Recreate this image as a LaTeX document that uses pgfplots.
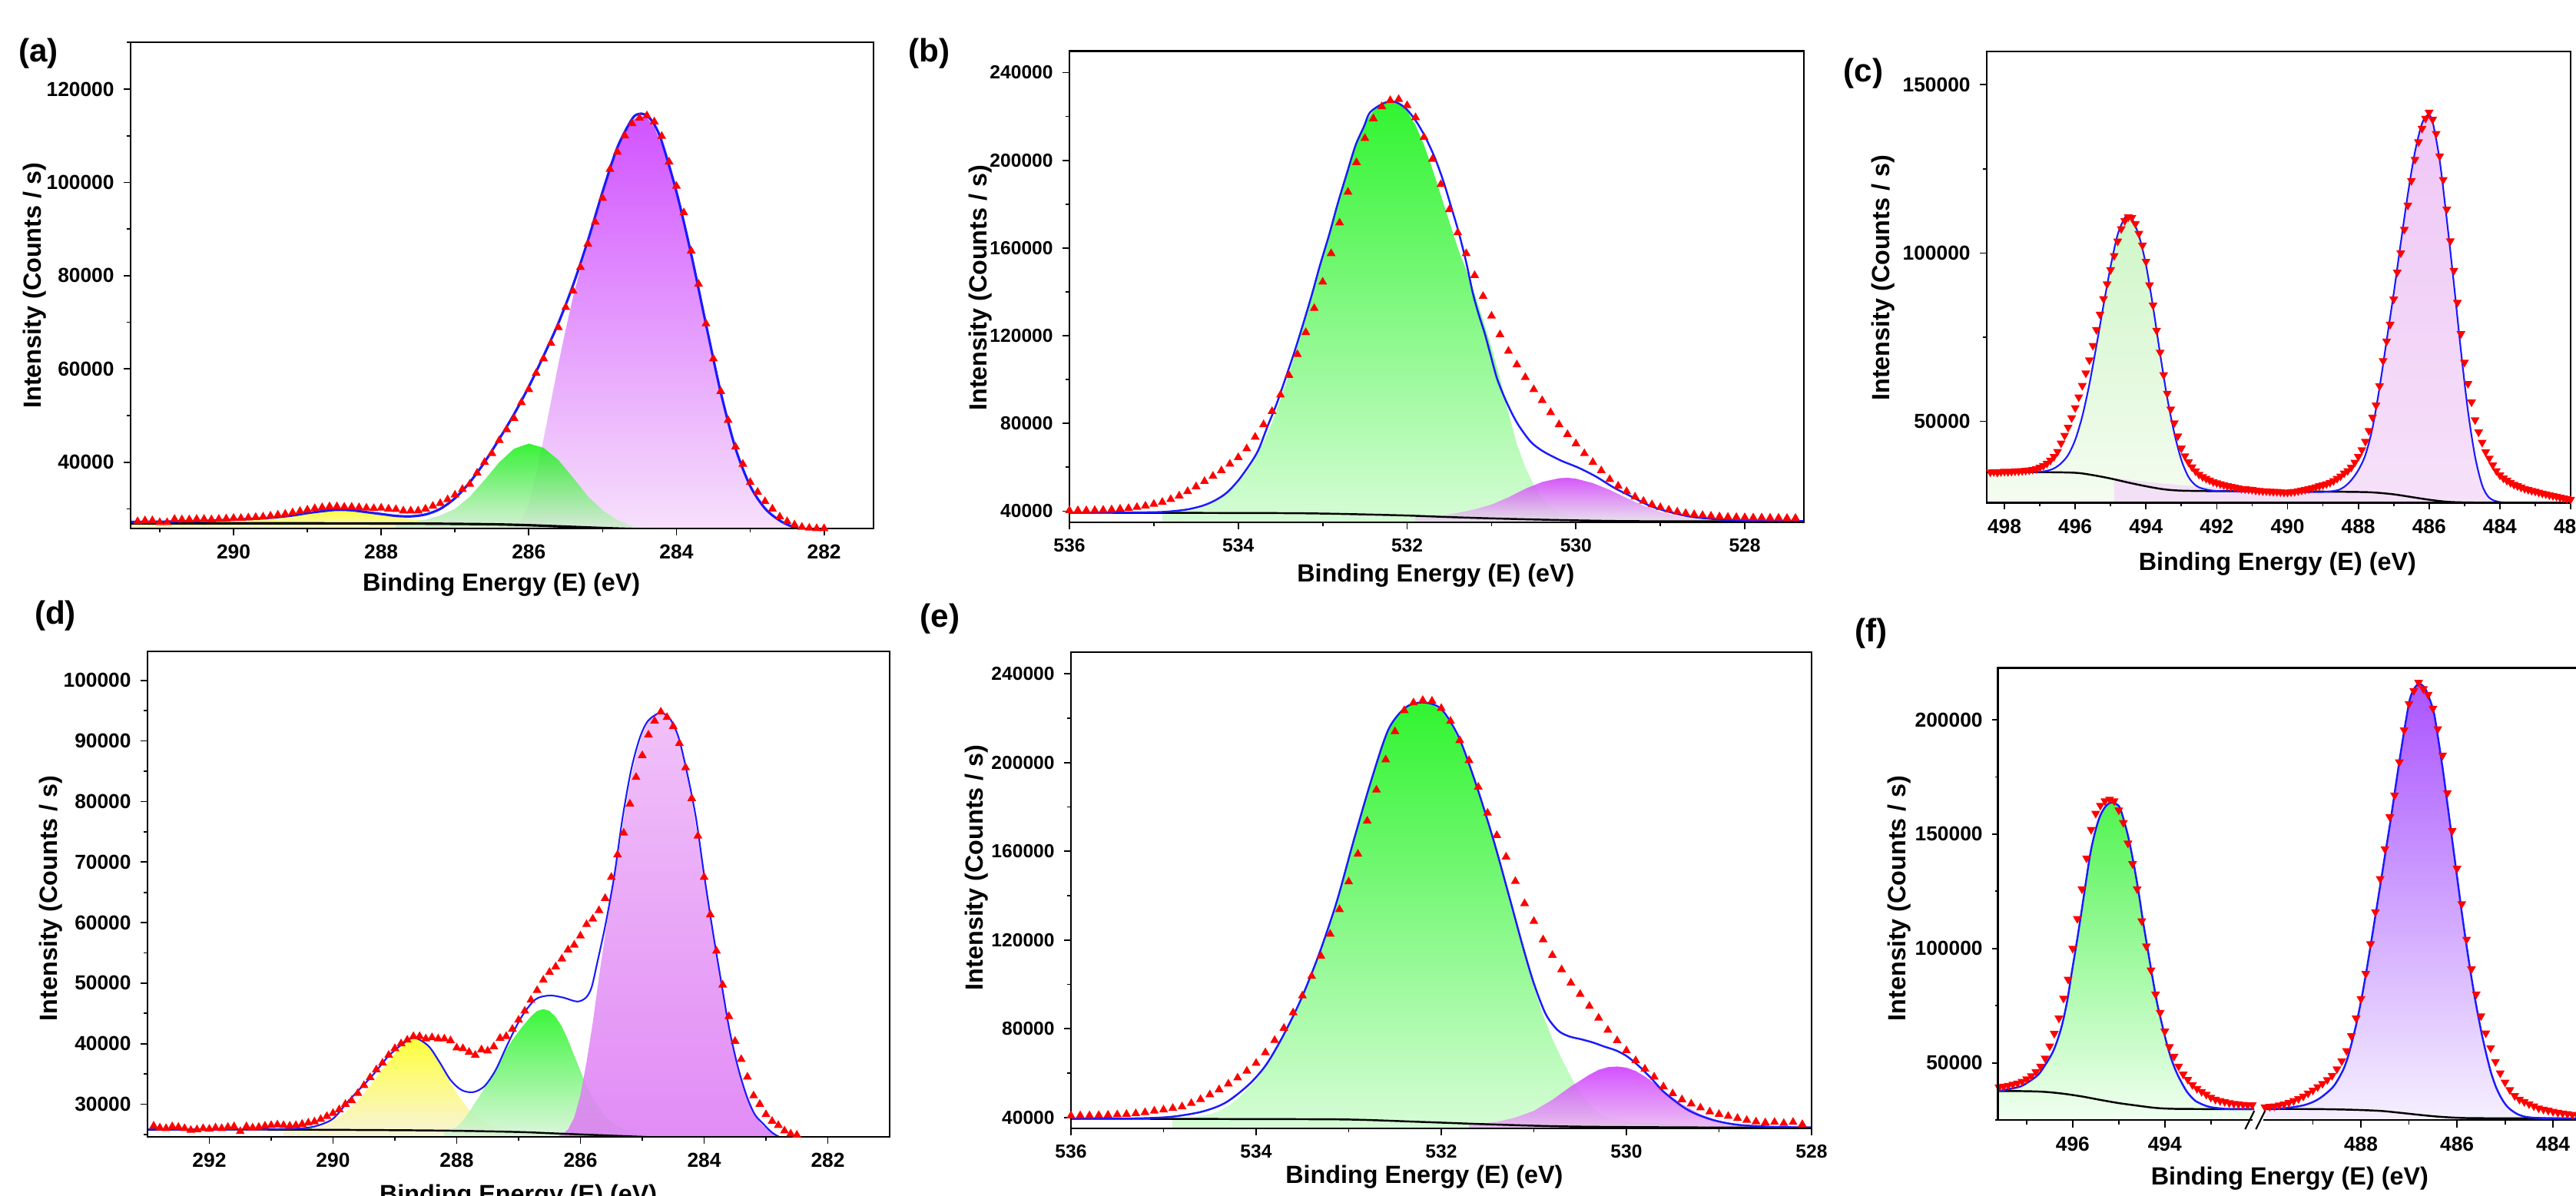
\documentclass[border=0pt]{standalone}
\usepackage{fontspec}
\setmainfont{Liberation Sans}
\usepackage{pgfplots}
\pgfplotsset{compat=1.18}

\definecolor{fitblue}{HTML}{1A1AFF}
\definecolor{mgA}{HTML}{C935FF}\definecolor{mgAb}{HTML}{F5DAFB}
\definecolor{grA}{HTML}{14F014}\definecolor{grAb}{HTML}{D2EDD2}
\definecolor{yeA}{HTML}{FFFF14}\definecolor{yeAb}{HTML}{F6F3D2}
\definecolor{grB}{HTML}{0CF20C}\definecolor{grBb}{HTML}{CFFCCF}
\definecolor{mgB}{HTML}{CF3BFA}\definecolor{mgBb}{HTML}{E6DCEA}
\definecolor{grC}{HTML}{C6F5BE}\definecolor{grCb}{HTML}{F3FBEE}
\definecolor{puC}{HTML}{ECBDF5}\definecolor{puCb}{HTML}{F4DCF8}
\definecolor{mgD}{HTML}{EEB6F8}\definecolor{mgDb}{HTML}{DC78F4}
\definecolor{grD}{HTML}{1AF51A}\definecolor{grDb}{HTML}{D6F4D6}
\definecolor{yeD}{HTML}{FFFF1A}\definecolor{yeDb}{HTML}{F7F2D4}
\definecolor{mgE}{HTML}{CC33FF}\definecolor{mgEb}{HTML}{EAB4F2}
\definecolor{grF}{HTML}{33F233}\definecolor{grFb}{HTML}{EFFFEF}
\definecolor{puF}{HTML}{9B36FF}\definecolor{puFb}{HTML}{F3EEFF}

\newcommand\tf{\fontsize{7.5}{9}\selectfont\bfseries}
\newcommand\tfs{\fontsize{7.0}{8.5}\selectfont\bfseries}
\newcommand\lf{\fontsize{9.2}{11}\selectfont\bfseries}
\newcommand\pf{\fontsize{12}{14}\selectfont\bfseries}

\pgfplotsset{
  xps/.style={scale only axis, anchor=north west, x dir=reverse, clip=true,
    axis line style={line width=0.6pt}, axis on top,
    tick align=outside, tick pos=left,
    major tick length=0.09cm, minor tick length=0.05cm,
    tick style={black, line width=0.5pt},
    scaled y ticks=false,
    /pgf/number format/assume math mode=true,
    y tick label style={/pgf/number format/fixed, /pgf/number format/1000 sep={}},
    x tick label style={/pgf/number format/1000 sep={}},
    tick label style={font=\tf}},
  dat/.style={only marks, mark=triangle*, mark size=1.5pt, color=red, mark options={draw=none, fill=red}},
  datd/.style={only marks, mark=triangle*, mark size=1.5pt, color=red, mark options={draw=none, fill=red, rotate=180}},
  env/.style={no marks, smooth, fitblue, line width=0.7pt},
  bgl/.style={no marks, smooth, black, line width=0.7pt},
  comp/.style 2 args={no marks, draw=none, top color=#1, bottom color=#2, fill opacity=0.85},
}

\begin{document}
\begin{tikzpicture}

% ---------------- (a) C 1s ----------------
\begin{axis}[xps, at={(1.70cm,-0.55cm)}, width=9.67cm, height=6.33cm,
  xmin=281.33, xmax=291.395, ymin=25800, ymax=130040,
  xtick={282,284,...,290}, minor xtick={281,283,...,291},
  ytick={40000,60000,...,120000}, minor ytick={30000,50000,...,130000}]
\addplot[comp={yeA}{yeAb}] coordinates {(291.4,25800) (291.4,27000) (290.5,27100) (290.0,27300) (289.6,27800) (289.4,28200) (289.2,28600) (289.0,29000) (288.8,29400) (288.6,29700) (288.4,29600) (288.2,29300) (288.0,28800) (287.8,28300) (287.6,27800) (287.4,27500) (287.0,27200) (286.6,27000) (286.0,26700) (285.6,26300) (285.2,25800)};
\addplot[comp={mgA}{mgAb}] coordinates {(286.4,25800) (286.3,25900) (286.2,26300) (286.1,27500) (286.0,31000) (285.9,37500) (285.8,45000) (285.7,53000) (285.6,61000) (285.5,68500) (285.4,75500) (285.3,81500) (285.2,86500) (285.1,92000) (285.0,97000) (284.9,102500) (284.8,107000) (284.7,110800) (284.6,113200) (284.5,114300) (284.4,113900) (284.3,111800) (284.2,108000) (284.1,103000) (284.0,97200) (283.9,91000) (283.8,84300) (283.7,77300) (283.6,69700) (283.5,62300) (283.4,55000) (283.3,48400) (283.2,42800) (283.1,38300) (283.0,34700) (282.9,32000) (282.8,30000) (282.7,28500) (282.6,27400) (282.5,26600) (282.4,26100) (282.3,25800)};
\addplot[comp={grA}{grAb}] coordinates {(287.8,25800) (287.8,26900) (287.6,27200) (287.4,27700) (287.2,28600) (287.0,30000) (286.8,32600) (286.6,36200) (286.4,40000) (286.2,42900) (286.0,44000) (285.8,43100) (285.6,40500) (285.4,36700) (285.2,32700) (285.0,29700) (284.8,27600) (284.6,26300) (284.4,25800)};
\addplot[bgl, line width=0.9pt] coordinates {(291.4,26900) (289.0,26900) (287.5,26850) (286.5,26700) (286.0,26500) (285.5,26200) (285.0,25900) (284.6,25700) (284.2,25600) (283.0,25500)};
\addplot[env, line width=0.9pt] coordinates {(291.4,27200) (291.0,27250) (290.5,27400) (290.0,27650) (289.5,28100) (289.2,28600) (289.0,29100) (288.8,29500) (288.6,29800) (288.4,29700) (288.2,29300) (288.0,28900) (287.8,28500) (287.6,28400) (287.4,28800) (287.2,30000) (287.0,32300) (286.8,35700) (286.6,40000) (286.4,45000) (286.2,50300) (286.0,56200) (285.8,62800) (285.6,69800) (285.4,78000) (285.2,87500) (285.0,98000) (284.8,107500) (284.6,113600) (284.5,114700) (284.4,114300) (284.3,112400) (284.2,108800) (284.0,98000) (283.8,84600) (283.6,69600) (283.4,55000) (283.2,43000) (283.0,34900) (282.8,30100) (282.6,27500) (282.4,26000) (282.2,25200) (282.0,24800)};
\addplot[dat] coordinates {(291.3,27300) (291.2,27500) (291.1,27500) (291.0,27100) (290.9,27100) (290.8,27800) (290.7,27700) (290.6,27700) (290.5,27800) (290.4,27800) (290.3,27700) (290.2,27800) (290.1,27900) (290.0,28000) (289.9,28000) (289.8,28100) (289.7,28200) (289.6,28300) (289.5,28500) (289.4,28700) (289.3,28900) (289.2,29200) (289.1,29500) (289.0,29800) (288.9,30100) (288.8,30300) (288.7,30500) (288.6,30500) (288.5,30400) (288.4,30400) (288.3,30300) (288.2,30200) (288.1,30100) (288.0,30200) (287.9,30000) (287.8,29900) (287.7,29600) (287.6,29600) (287.5,29600) (287.4,30000) (287.3,30600) (287.2,31200) (287.1,32000) (287.0,33000) (286.9,34200) (286.8,35300) (286.7,37700) (286.6,40000) (286.5,41900) (286.4,44700) (286.3,47000) (286.2,49400) (286.1,52800) (286.0,55600) (285.9,59100) (285.8,62200) (285.7,65500) (285.6,68900) (285.5,73200) (285.4,76700) (285.3,81800) (285.2,86800) (285.1,91500) (285.0,96600) (284.9,102800) (284.8,106500) (284.7,110000) (284.6,112600) (284.5,113800) (284.4,114300) (284.3,113000) (284.2,109900) (284.1,104400) (284.0,99200) (283.9,93500) (283.8,85300) (283.7,78200) (283.6,69700) (283.5,62200) (283.4,55200) (283.3,49000) (283.2,43300) (283.1,39600) (283.0,35700) (282.9,33600) (282.8,31600) (282.7,30000) (282.6,28300) (282.5,27300) (282.4,26600) (282.3,26100) (282.2,25900) (282.1,25800) (282.0,25800)};
\end{axis}

% ---------------- (b) O 1s ----------------
\begin{axis}[xps, at={(13.92cm,-0.665cm)}, width=9.56cm, height=6.135cm,
  xmin=527.3, xmax=536, ymin=34900, ymax=249800,
  tick label style={font=\tfs},
  xtick={528,530,...,536}, minor xtick={529,531,533,535},
  ytick={40000,80000,...,240000}, minor ytick={60000,100000,...,220000}]
\addplot[comp={grB}{grBb}] coordinates {(534.9,34900) (534.9,39300) (534.7,39600) (534.5,40800) (534.4,42000) (534.3,43800) (534.2,46200) (534.1,49300) (534.0,53000) (533.9,57800) (533.8,64000) (533.7,71500) (533.6,80500) (533.5,91000) (533.4,102500) (533.3,115000) (533.2,128000) (533.1,142000) (533.0,156000) (532.9,170500) (532.8,184000) (532.7,197000) (532.6,208500) (532.5,217000) (532.4,222500) (532.3,225700) (532.2,226800) (532.1,226000) (532.0,222500) (531.9,216000) (531.8,207000) (531.7,196000) (531.6,184000) (531.5,172000) (531.4,160000) (531.3,150000) (531.2,139000) (531.1,127000) (531.0,114500) (530.9,100500) (530.8,85000) (530.7,70500) (530.6,60000) (530.5,52000) (530.4,46000) (530.3,41800) (530.2,39300) (530.1,37900) (530.0,37000) (529.6,36200) (529.0,35700) (529.0,34900)};
\addplot[comp={mgB}{mgBb}] coordinates {(531.9,34900) (531.9,37200) (531.6,37900) (531.4,39200) (531.2,40800) (531.0,43000) (530.8,46300) (530.6,50200) (530.4,53300) (530.2,55000) (530.1,55200) (530.0,54800) (529.8,52800) (529.6,49700) (529.4,46000) (529.2,42500) (529.0,39700) (528.8,37800) (528.6,36600) (528.4,35900) (528.2,35500) (528.0,35300) (528.0,34900)};
\addplot[bgl] coordinates {(536,39300) (534.5,39200) (533.5,39100) (533,38900) (532.5,38500) (532,38000) (531.5,37300) (531,36700) (530.5,36200) (530,35800) (529.5,35500) (529,35400) (527.3,35300)};
\addplot[env] coordinates {(536.0,39300) (535.5,39350) (535.0,39500) (534.8,39900) (534.6,40800) (534.42,42500) (534.28,44800) (534.14,48300) (534.0,54000) (533.86,61500) (533.76,68000) (533.66,78000) (533.55,88500) (533.45,99500) (533.34,112000) (533.24,124300) (533.13,138500) (533.03,152400) (532.92,166500) (532.82,180500) (532.71,194500) (532.61,206900) (532.51,215500) (532.44,221800) (532.28,226000) (532.17,226800) (532.08,225500) (531.99,222600) (531.88,217000) (531.78,210200) (531.67,201000) (531.57,190400) (531.48,179000) (531.39,167300) (531.3,153500) (531.22,139200) (531.15,129500) (531.08,121000) (531.01,111000) (530.94,101100) (530.87,94000) (530.80,87900) (530.73,82500) (530.66,78000) (530.53,71400) (530.39,67300) (530.18,63100) (529.97,59800) (529.76,55700) (529.55,50700) (529.34,46600) (529.13,42500) (528.93,40000) (528.65,37500) (528.3,36200) (527.95,35700) (527.3,35500)};
\addplot[dat] coordinates {(536.0,40300) (535.9,40300) (535.8,40300) (535.7,40400) (535.6,40500) (535.5,40700) (535.4,41000) (535.3,41300) (535.2,41800) (535.1,42400) (535.0,43200) (534.9,44100) (534.8,45400) (534.7,47000) (534.6,49000) (534.5,51200) (534.4,53600) (534.3,56000) (534.2,58500) (534.1,61500) (534.0,64500) (533.9,68500) (533.8,73800) (533.7,79500) (533.6,85500) (533.5,93000) (533.4,102000) (533.3,111500) (533.2,121500) (533.1,132500) (533.0,144500) (532.9,157500) (532.8,171500) (532.7,185500) (532.6,199000) (532.5,210000) (532.4,219000) (532.3,224500) (532.2,227300) (532.1,227800) (532.0,225000) (531.9,219500) (531.8,210500) (531.7,200500) (531.6,189000) (531.5,177500) (531.4,167000) (531.3,157500) (531.2,147500) (531.1,138000) (531.0,129000) (530.9,120500) (530.8,113000) (530.7,106800) (530.6,101000) (530.5,95500) (530.4,90500) (530.3,85000) (530.2,79500) (530.1,75000) (530.0,70800) (529.9,66300) (529.8,62300) (529.7,58500) (529.6,54500) (529.5,51500) (529.4,49000) (529.3,46500) (529.2,44600) (529.1,43000) (529.0,41700) (528.9,40600) (528.8,39700) (528.7,39000) (528.6,38500) (528.5,38100) (528.4,37800) (528.3,37500) (528.2,37300) (528.1,37200) (528.0,37100) (527.9,37000) (527.8,37000) (527.7,36900) (527.6,36900) (527.5,36800) (527.4,36800)};
\end{axis}

% ---------------- (c) ----------------
\begin{axis}[xps, at={(25.86cm,-0.67cm)}, width=7.60cm, height=5.875cm,
  xmin=482, xmax=498.5, ymin=25800, ymax=159900,
  xtick={482,484,...,498}, minor xtick={483,485,...,497},
  ytick={50000,100000,150000}, minor ytick={75000,125000}]
\addplot[comp={grC}{grCb}] coordinates {(498.5,25800) (498.5,34900) (497.5,34900) (497.0,35000) (496.8,35300) (496.6,36000) (496.4,37500) (496.2,40000) (496.1,42000) (496.0,44500) (495.9,47500) (495.8,51500) (495.7,56000) (495.6,61000) (495.5,66500) (495.4,72500) (495.3,78500) (495.2,84500) (495.1,90500) (495.0,96000) (494.9,101000) (494.8,105500) (494.7,108800) (494.6,110500) (494.5,110900) (494.4,110300) (494.3,108300) (494.2,105200) (494.1,101200) (494.0,96500) (493.9,90500) (493.8,84000) (493.7,77000) (493.6,70000) (493.5,63500) (493.4,57000) (493.3,51500) (493.2,46500) (493.1,42000) (493.0,38500) (492.9,35500) (492.8,33500) (492.6,31000) (492.4,30000) (492.0,29300) (491.0,29000) (490.0,28800) (489.0,28600) (488.0,28300) (487.0,27700) (486.0,26600) (485.0,26000) (484.4,25800)};
\addplot[comp={puC}{puCb}] coordinates {(494.9,25800) (494.9,33200) (494.0,32000) (493.0,31000) (492.0,30300) (491.0,29800) (490.0,29500) (489.0,29400) (488.6,29600) (488.4,30500) (488.2,32500) (488.0,35500) (487.9,37500) (487.8,40000) (487.7,43500) (487.6,48000) (487.5,53500) (487.4,60000) (487.3,67000) (487.2,74000) (487.1,81000) (487.0,88000) (486.9,95500) (486.8,103000) (486.7,110500) (486.6,117500) (486.5,124000) (486.4,130000) (486.3,135000) (486.2,138500) (486.1,140500) (486.0,141000) (485.9,139000) (485.8,134500) (485.7,127500) (485.6,119000) (485.5,110000) (485.4,100500) (485.3,91000) (485.2,81000) (485.1,71000) (485.0,61500) (484.9,53000) (484.8,45500) (484.7,39500) (484.6,34500) (484.5,31000) (484.4,28800) (484.3,27300) (484.2,26500) (484.0,26200) (483.0,26100) (482.0,26000) (482.0,25800)};
\addplot[bgl] coordinates {(498.5,34900) (497.0,34900) (496.0,34700) (495.5,34000) (495.0,33000) (494.5,31800) (494.0,30700) (493.5,29800) (493.0,29400) (492.0,29250) (490.0,29200) (488.0,29000) (487.5,28800) (487.0,28300) (486.5,27500) (486.0,26700) (485.5,26100) (485.0,25900) (484.0,25800) (482.0,25800)};
\addplot[env, line width=0.6pt] coordinates {(498.5,34900) (497.5,34900) (497.0,35000) (496.8,35300) (496.6,36000) (496.4,37500) (496.2,40000) (496.0,44500) (495.8,51500) (495.6,61000) (495.4,72500) (495.2,84500) (495.0,96000) (494.8,105500) (494.6,110500) (494.5,110900) (494.4,110300) (494.2,105200) (494.0,96500) (493.8,84000) (493.6,70000) (493.4,57000) (493.2,46500) (493.0,38500) (492.8,33500) (492.6,31000) (492.4,30000) (492.0,29300) (491.0,29100) (490.0,29000) (489.0,29000) (488.6,29500) (488.4,30500) (488.2,32500) (488.0,35500) (487.8,40000) (487.6,48000) (487.4,60000) (487.2,74000) (487.0,88000) (486.8,103000) (486.6,117500) (486.4,130000) (486.2,138500) (486.03,141000) (485.9,139000) (485.7,127500) (485.5,110000) (485.3,91000) (485.1,71000) (484.9,53000) (484.7,39500) (484.5,31000) (484.3,27300) (484.0,26000) (483.5,25800) (482.0,25700)};
\addplot[datd] coordinates {(498.4,34900) (498.3,35000) (498.2,34800) (498.1,35000) (498.0,35100) (497.9,35000) (497.8,35100) (497.7,35200) (497.6,35200) (497.5,35300) (497.4,35400) (497.3,35500) (497.2,35700) (497.1,35900) (497.0,36300) (496.9,36800) (496.8,37500) (496.7,38400) (496.6,39500) (496.5,41000) (496.4,43500) (496.3,45800) (496.2,48200) (496.1,51000) (496.0,54000) (495.9,57200) (495.8,60600) (495.7,64300) (495.6,68200) (495.5,72500) (495.4,77200) (495.3,81800) (495.2,86400) (495.1,90800) (495.0,95000) (494.9,99200) (494.8,103500) (494.7,107200) (494.6,109600) (494.5,110700) (494.4,110500) (494.3,108700) (494.2,105800) (494.1,102300) (494.0,97500) (493.9,90500) (493.8,84500) (493.7,77000) (493.6,70500) (493.5,63800) (493.4,58300) (493.3,53600) (493.2,49500) (493.1,45600) (493.0,42000) (492.9,39700) (492.8,37900) (492.7,36400) (492.6,35200) (492.5,34200) (492.4,33500) (492.3,33000) (492.2,32500) (492.1,32000) (492.0,31700) (491.9,31400) (491.8,31100) (491.7,30800) (491.6,30600) (491.5,30400) (491.4,30200) (491.3,30000) (491.2,29900) (491.1,29800) (491.0,29700) (490.9,29500) (490.8,29400) (490.7,29300) (490.6,29300) (490.5,29200) (490.4,29100) (490.3,29100) (490.2,29000) (490.1,28900) (490.0,28900) (489.9,29000) (489.8,29100) (489.7,29300) (489.6,29500) (489.5,29700) (489.4,29900) (489.3,30200) (489.2,30500) (489.1,30800) (489.0,31100) (488.9,31400) (488.8,31800) (488.7,32300) (488.6,33000) (488.5,33700) (488.4,34600) (488.3,35300) (488.2,36300) (488.1,37800) (488.0,39500) (487.9,41500) (487.8,44000) (487.7,47200) (487.6,51200) (487.5,54800) (487.4,60500) (487.3,68000) (487.2,73800) (487.1,78800) (487.0,86300) (486.9,94300) (486.8,100000) (486.7,107000) (486.6,114200) (486.5,121500) (486.4,127800) (486.3,133000) (486.2,137000) (486.1,140000) (486.0,141800) (485.9,139700) (485.8,135500) (485.7,128800) (485.6,121800) (485.5,113000) (485.4,103600) (485.3,94800) (485.2,85300) (485.1,76000) (485.0,67500) (484.9,61200) (484.8,55700) (484.7,50400) (484.6,46800) (484.5,43700) (484.4,40900) (484.3,39000) (484.2,37000) (484.1,35300) (484.0,34000) (483.9,33100) (483.8,32400) (483.7,31800) (483.6,31200) (483.5,30800) (483.4,30400) (483.3,30000) (483.2,29700) (483.1,29400) (483.0,29200) (482.9,28900) (482.8,28600) (482.7,28400) (482.6,28100) (482.5,27900) (482.4,27700) (482.3,27400) (482.2,27200) (482.1,27000) (482.0,26800)};
\end{axis}

% ---------------- (d) ----------------
\begin{axis}[xps, at={(1.92cm,-8.48cm)}, width=9.66cm, height=6.32cm,
  xmin=281.0, xmax=293.0, ymin=24600, ymax=104800,
  xtick={282,284,...,292}, minor xtick={283,285,...,291},
  ytick={30000,40000,...,100000}, minor ytick={25000,35000,...,95000}]
\addplot[comp={yeD}{yeDb}] coordinates {(290.8,24600) (290.8,25900) (290.4,26200) (290.2,26600) (290.0,27300) (289.8,28600) (289.6,30500) (289.4,33000) (289.2,35800) (289.0,38300) (288.9,39500) (288.8,40400) (288.7,40900) (288.6,40700) (288.5,39900) (288.4,38800) (288.3,37200) (288.2,35300) (288.0,31800) (287.8,29000) (287.6,27300) (287.4,26300) (287.2,25800) (287.0,25500) (286.5,25300) (286.0,25000) (285.5,24600)};
\addplot[comp={grD}{grDb}] coordinates {(288.2,24600) (288.2,25500) (288.0,26200) (287.9,27300) (287.8,28700) (287.7,30300) (287.6,31800) (287.5,33600) (287.4,35300) (287.3,37200) (287.2,39000) (287.1,40600) (287.0,42000) (286.9,43300) (286.8,44500) (286.7,45400) (286.6,45700) (286.5,45400) (286.4,44400) (286.3,42800) (286.2,40600) (286.1,38000) (286.0,35500) (285.9,33000) (285.8,30900) (285.6,28000) (285.4,26300) (285.2,25400) (285.0,24900) (284.8,24600)};
\addplot[comp={mgD}{mgDb}] coordinates {(286.4,24600) (286.3,25000) (286.2,25800) (286.1,27800) (286.0,31500) (285.9,37000) (285.8,43500) (285.7,51000) (285.6,58000) (285.5,64500) (285.4,70500) (285.3,77000) (285.2,83000) (285.1,87500) (285.0,91000) (284.9,93200) (284.8,94300) (284.7,94700) (284.6,94200) (284.5,92700) (284.4,90000) (284.3,85800) (284.2,80200) (284.1,74000) (284.0,67500) (283.9,61300) (283.8,55000) (283.7,49000) (283.6,43000) (283.5,38200) (283.4,34300) (283.3,31000) (283.2,28600) (283.1,27000) (283.0,26000) (282.9,25200) (282.8,24800) (282.7,24600)};
\addplot[bgl] coordinates {(293.0,25800) (291,25800) (289,25700) (288,25600) (287,25400) (286.5,25200) (286,25000) (285.5,24800) (285,24600) (284.5,24400)};
\addplot[env, line width=0.6pt] coordinates {(293.0,25800) (292,25800) (291,25850) (290.6,25950) (290.29,26340) (290.0,27600) (289.74,30660) (289.37,34650) (289.10,37980) (288.87,39970) (288.69,40970) (288.46,39640) (288.28,36980) (288.10,33990) (287.92,32320) (287.73,31990) (287.55,32990) (287.37,35650) (287.19,39640) (286.96,44290) (286.73,47280) (286.50,47950) (286.28,47610) (286.05,46950) (285.91,47610) (285.82,49280) (285.73,53260) (285.59,59910) (285.45,67900) (285.32,77200) (285.18,85200) (285.04,90500) (284.91,93300) (284.74,94600) (284.68,94700) (284.54,93500) (284.41,90500) (284.27,84500) (284.13,77200) (284.0,67900) (283.86,58600) (283.72,50000) (283.59,42300) (283.45,36000) (283.31,31300) (283.18,28300) (283.04,26700) (282.9,25300) (282.77,24500)};
\addplot[dat] coordinates {(292.9,26400) (292.8,26100) (292.7,26000) (292.6,26300) (292.5,26200) (292.4,26000) (292.3,25700) (292.2,25800) (292.1,26000) (292.0,25900) (291.9,26100) (291.8,26000) (291.7,26200) (291.6,26300) (291.5,25500) (291.4,26300) (291.3,26100) (291.2,26200) (291.1,26400) (291.0,26500) (290.9,26600) (290.8,26500) (290.7,26400) (290.6,26500) (290.5,26700) (290.4,26900) (290.3,27100) (290.2,27500) (290.1,28000) (290.0,28500) (289.9,29100) (289.8,30000) (289.7,30600) (289.6,31800) (289.5,33100) (289.4,34400) (289.3,35700) (289.2,36800) (289.1,38100) (289.0,39200) (288.9,40000) (288.8,40600) (288.7,41200) (288.6,41200) (288.5,40800) (288.4,41000) (288.3,40800) (288.2,40800) (288.1,40500) (288.0,39300) (287.9,39200) (287.8,38600) (287.7,38100) (287.6,39000) (287.5,38800) (287.4,39500) (287.3,40900) (287.2,41200) (287.1,42400) (287.0,43900) (286.9,45400) (286.8,47200) (286.7,48800) (286.6,50500) (286.5,51800) (286.4,52700) (286.3,54000) (286.2,55500) (286.1,56300) (286.0,57800) (285.9,59700) (285.8,60600) (285.7,62000) (285.6,64000) (285.5,67500) (285.4,71200) (285.3,74800) (285.2,79600) (285.1,84000) (285.0,87600) (284.9,91000) (284.8,93300) (284.7,94800) (284.6,93900) (284.5,92400) (284.4,89600) (284.3,85600) (284.2,80500) (284.1,74300) (284.0,67500) (283.9,61300) (283.8,55300) (283.7,49700) (283.6,44500) (283.5,40400) (283.4,37400) (283.3,34500) (283.2,31400) (283.1,30000) (283.0,28300) (282.9,27200) (282.8,26500) (282.7,25600) (282.6,25100) (282.5,24900)};
\end{axis}

% ---------------- (e) ----------------
\begin{axis}[xps, at={(13.94cm,-8.49cm)}, width=9.64cm, height=6.20cm,
  xmin=528, xmax=536, ymin=35100, ymax=249800,
  tick label style={font=\tfs},
  xtick={528,530,...,536}, minor xtick={529,531,533,535},
  ytick={40000,80000,...,240000}, minor ytick={60000,100000,...,220000}]
\addplot[comp={grB}{grBb}] coordinates {(534.9,35100) (534.9,39500) (534.7,40000) (534.5,41500) (534.4,43000) (534.3,45300) (534.2,48500) (534.1,52500) (534.0,57000) (533.9,62500) (533.8,69500) (533.7,77000) (533.6,85000) (533.5,94500) (533.4,104500) (533.3,115500) (533.2,128000) (533.1,141000) (533.0,156000) (532.9,171000) (532.8,186000) (532.7,199500) (532.6,211500) (532.5,219800) (532.4,224500) (532.3,226800) (532.2,227100) (532.1,226200) (532.0,223500) (531.9,217500) (531.8,209500) (531.7,198500) (531.6,186500) (531.5,174000) (531.4,160000) (531.3,145000) (531.2,129000) (531.1,114000) (531.0,99000) (530.9,86000) (530.8,75500) (530.7,66500) (530.6,58500) (530.5,51000) (530.4,45800) (530.3,42200) (530.2,40000) (530.0,38300) (529.5,37000) (529.0,36000) (529.0,35100)};
\addplot[comp={mgE}{mgEb}] coordinates {(531.7,35100) (531.7,36800) (531.4,38000) (531.2,40000) (531.0,43000) (530.8,48000) (530.6,54000) (530.4,59300) (530.3,61500) (530.2,62700) (530.1,63000) (530.0,62500) (529.9,61000) (529.8,58500) (529.7,55500) (529.6,52000) (529.5,49000) (529.4,46000) (529.2,41500) (529.0,38500) (528.8,36800) (528.6,36000) (528.4,35600) (528.0,35400) (528.0,35100)};
\addplot[bgl] coordinates {(536,39500) (534,39300) (533,39100) (532.2,38000) (531.6,37100) (530.9,36200) (530.3,35800) (529,35500) (528,35500)};
\addplot[env] coordinates {(536.0,39500) (535.5,39550) (535.2,39700) (534.9,40400) (534.58,42700) (534.33,46700) (534.08,54800) (533.89,63900) (533.70,77500) (533.51,93800) (533.32,113700) (533.13,137200) (532.95,164300) (532.76,191500) (532.57,215000) (532.38,225000) (532.19,227100) (532.0,224100) (531.81,211400) (531.62,189700) (531.43,164300) (531.25,137200) (531.12,117300) (531.0,100500) (530.87,86500) (530.74,79300) (530.62,76600) (530.49,75300) (530.36,73800) (530.24,72000) (530.11,70200) (529.99,67500) (529.86,63000) (529.73,57600) (529.61,52100) (529.48,47600) (529.36,44000) (529.23,41300) (529.04,38600) (528.79,36700) (528.41,35800) (528.0,35500)};
\addplot[dat] coordinates {(536.0,40800) (535.9,40900) (535.8,40900) (535.7,41000) (535.6,41100) (535.5,41300) (535.4,41500) (535.3,41800) (535.2,42300) (535.1,43000) (535.0,43500) (534.9,44200) (534.8,44900) (534.7,46400) (534.6,48200) (534.5,50300) (534.4,52600) (534.3,55200) (534.2,57900) (534.1,61000) (534.0,64500) (533.9,69300) (533.8,74800) (533.7,80300) (533.6,87300) (533.5,94900) (533.4,103700) (533.3,112800) (533.2,122700) (533.1,133800) (533.0,146300) (532.9,158800) (532.8,173700) (532.7,187700) (532.6,201300) (532.5,214000) (532.4,223500) (532.3,227000) (532.2,228100) (532.1,227800) (532.0,224500) (531.9,218700) (531.8,210000) (531.7,201000) (531.6,189000) (531.5,177300) (531.4,167200) (531.3,157500) (531.2,146500) (531.1,136500) (531.0,128500) (530.9,120200) (530.8,113200) (530.7,106700) (530.6,100700) (530.5,95600) (530.4,90200) (530.3,84900) (530.2,79400) (530.1,74700) (530.0,70200) (529.9,65700) (529.8,61900) (529.7,58300) (529.6,53900) (529.5,50800) (529.4,48100) (529.3,46200) (529.2,44400) (529.1,42600) (529.0,41500) (528.9,40600) (528.8,39700) (528.7,38800) (528.6,38100) (528.5,37700) (528.4,37900) (528.3,37400) (528.2,37900) (528.1,36900)};
\end{axis}

% ---------------- (f) left part ----------------
\begin{axis}[xps, at={(26.02cm,-8.70cm)}, width=3.32cm, height=5.89cm,
  axis line style={draw=none},
  xmin=492.06, xmax=497.6, ymin=24700, ymax=222500,
  xtick={494,496}, minor xtick={493,495,497},
  ytick={50000,100000,150000,200000}, minor ytick={25000,75000,125000,175000}]
\addplot[comp={grF}{grFb}] coordinates {(497.6,24700) (497.6,37700) (497.16,39500) (496.95,41800) (496.75,44800) (496.6,49000) (496.44,54400) (496.33,60000) (496.23,66700) (496.12,77000) (496.02,89600) (495.91,103000) (495.81,116000) (495.71,129500) (495.61,142300) (495.5,152000) (495.4,158200) (495.28,162300) (495.17,163800) (495.07,163300) (494.98,161700) (494.88,155500) (494.78,147600) (494.67,136500) (494.57,124800) (494.47,111500) (494.36,98400) (494.26,86500) (494.16,75500) (494.05,66000) (493.95,57900) (493.85,51200) (493.74,45600) (493.63,41200) (493.53,37700) (493.43,35200) (493.33,33300) (493.17,31700) (493.02,30700) (492.8,30100) (492.6,29800) (492.06,29800) (492.06,24700)};
\addplot[bgl] coordinates {(497.6,37700) (497.0,37600) (496.6,37300) (496.2,36500) (495.8,35300) (495.4,33800) (495.0,32400) (494.6,31300) (494.2,30300) (493.8,29900) (493.0,29800) (492.06,29800)};
\addplot[env] coordinates {(497.6,37700) (497.16,39500) (496.95,41800) (496.75,44800) (496.6,49000) (496.44,54400) (496.33,60000) (496.23,66700) (496.12,77000) (496.02,89600) (495.91,103000) (495.81,116000) (495.71,129500) (495.61,142300) (495.5,152000) (495.4,158200) (495.28,162300) (495.17,163800) (495.07,163300) (494.98,161700) (494.88,155500) (494.78,147600) (494.67,136500) (494.57,124800) (494.47,111500) (494.36,98400) (494.26,86500) (494.16,75500) (494.05,66000) (493.95,57900) (493.85,51200) (493.74,45600) (493.63,41200) (493.53,37700) (493.43,35200) (493.33,33300) (493.17,31700) (493.02,30700) (492.8,30100) (492.6,29800) (492.06,29800)};
\addplot[datd] coordinates {(497.6,39300) (497.5,39700) (497.4,40100) (497.3,40600) (497.2,41100) (497.1,41800) (497.0,42900) (496.9,44300) (496.8,46100) (496.7,48500) (496.6,52000) (496.5,57300) (496.4,62800) (496.3,69500) (496.2,78200) (496.1,86500) (496.0,100000) (495.9,113000) (495.8,126000) (495.7,139500) (495.6,152000) (495.5,159000) (495.4,162500) (495.3,164500) (495.2,165200) (495.1,164500) (495.0,160500) (494.9,155000) (494.8,146000) (494.7,137000) (494.6,126000) (494.5,112000) (494.4,101000) (494.3,90500) (494.2,80000) (494.1,72000) (494.0,63800) (493.9,57000) (493.8,52800) (493.7,48500) (493.6,45000) (493.5,42700) (493.4,40400) (493.3,38700) (493.2,37400) (493.1,36200) (493.0,34900) (492.9,34000) (492.8,33400) (492.7,33000) (492.6,32500) (492.5,32200) (492.4,32000) (492.3,31800) (492.2,31600) (492.1,31600)};
\end{axis}

% ---------------- (f) right part ----------------
\begin{axis}[xps, at={(29.48cm,-8.70cm)}, width=4.12cm, height=5.89cm,
  axis line style={draw=none},
  xmin=483.41, xmax=490, ymin=24700, ymax=222500,
  xtick={484,486,488}, minor xtick={485,487,489}, ytick=\empty]
\addplot[comp={puF}{puFb}] coordinates {(490.0,24700) (490.0,29800) (489.57,30200) (489.17,31600) (488.88,34200) (488.58,39500) (488.38,46500) (488.28,52000) (488.18,59700) (488.08,68500) (487.98,79000) (487.88,90800) (487.78,103700) (487.68,116800) (487.58,130000) (487.48,143200) (487.38,156400) (487.28,170600) (487.18,184500) (487.08,197600) (486.98,209100) (486.88,214000) (486.79,215800) (486.71,214800) (486.64,212700) (486.49,203900) (486.39,191500) (486.29,177500) (486.19,161800) (486.09,145900) (485.99,130000) (485.89,114200) (485.79,99700) (485.69,86100) (485.59,74000) (485.49,63200) (485.39,53800) (485.29,45600) (485.19,39500) (485.09,35100) (485.0,32100) (484.9,29800) (484.7,27200) (484.4,26000) (483.4,25400) (483.4,24700)};
\addplot[bgl] coordinates {(490,29800) (489,29800) (488.2,29500) (487.6,29000) (487.2,28200) (486.8,27300) (486.4,26500) (486.0,26000) (485.5,25800) (483.4,25700)};
\addplot[env] coordinates {(490.0,29800) (489.57,30200) (489.17,31600) (488.88,34200) (488.58,39500) (488.38,46500) (488.28,52000) (488.18,59700) (488.08,68500) (487.98,79000) (487.88,90800) (487.78,103700) (487.68,116800) (487.58,130000) (487.48,143200) (487.38,156400) (487.28,170600) (487.18,184500) (487.08,197600) (486.98,209100) (486.88,214000) (486.79,215800) (486.71,214800) (486.64,212700) (486.49,203900) (486.39,191500) (486.29,177500) (486.19,161800) (486.09,145900) (485.99,130000) (485.89,114200) (485.79,99700) (485.69,86100) (485.59,74000) (485.49,63200) (485.39,53800) (485.29,45600) (485.19,39500) (485.09,35100) (485.0,32100) (484.9,29800) (484.7,27200) (484.4,26000) (483.4,25400)};
\addplot[datd] coordinates {(490.0,30700) (489.9,30900) (489.8,31100) (489.7,31500) (489.6,31900) (489.5,32600) (489.4,33400) (489.3,34300) (489.2,35400) (489.1,36700) (489.0,38000) (488.9,39500) (488.8,40900) (488.7,42600) (488.6,44400) (488.5,47300) (488.4,50800) (488.3,55300) (488.2,61800) (488.1,69500) (488.0,78000) (487.9,89000) (487.8,102000) (487.7,116000) (487.6,130500) (487.5,143500) (487.4,157500) (487.3,167000) (487.2,181500) (487.1,195500) (487.0,207000) (486.9,212700) (486.8,216300) (486.7,213500) (486.6,211000) (486.5,205000) (486.4,196000) (486.3,184500) (486.2,168000) (486.1,151500) (486.0,135000) (485.9,119500) (485.8,104000) (485.7,91000) (485.6,80000) (485.5,70500) (485.4,63000) (485.3,56500) (485.2,50500) (485.1,45500) (485.0,41500) (484.9,38200) (484.8,35600) (484.7,34000) (484.6,33000) (484.5,32000) (484.4,31100) (484.3,30200) (484.2,29700) (484.1,29200) (484.0,28700) (483.9,28300) (483.8,28000) (483.7,27700) (483.6,27400) (483.5,27200)};
\end{axis}

\begin{scope}[x=0.01cm, y=-0.01cm]
% frame of the broken axis in (f)
\draw[line width=0.6pt] (2934,1459) -- (2602,1459) -- (2602,870) -- (3360,870);
\draw[line width=0.6pt] (2948,1459) -- (3360,1459);
\draw[line width=0.6pt] (2924,1471) -- (2936,1447);
\draw[line width=0.6pt] (2938,1471) -- (2950,1447);
% panel letters
\node[font=\pf] at (50,70) {(a)};
\node[font=\pf] at (1210,70) {(b)};
\node[font=\pf] at (2427,96) {(c)};
\node[font=\pf] at (72,802) {(d)};
\node[font=\pf] at (1224,806) {(e)};
\node[font=\pf] at (2437,825) {(f)};
% axis titles
\node[font=\lf] at (653,762) {Binding Energy (E) (eV)};
\node[font=\lf] at (1870,750) {Binding Energy (E) (eV)};
\node[font=\lf] at (2966,735) {Binding Energy (E) (eV)};
\node[font=\lf] at (675,1558) {Binding Energy (E) (eV)};
\node[font=\lf] at (1855,1533) {Binding Energy (E) (eV)};
\node[font=\lf] at (2982,1535) {Binding Energy (E) (eV)};
\node[font=\lf, rotate=90] at (45,372) {Intensity (Counts / s)};
\node[font=\lf, rotate=90] at (1277,375) {Intensity (Counts / s)};
\node[font=\lf, rotate=90] at (2453,362) {Intensity (Counts / s)};
\node[font=\lf, rotate=90] at (66,1170) {Intensity (Counts / s)};
\node[font=\lf, rotate=90] at (1272,1130) {Intensity (Counts / s)};
\node[font=\lf, rotate=90] at (2474,1170) {Intensity (Counts / s)};
\end{scope}
\pgfresetboundingbox
\path[use as bounding box] (0,0) rectangle (33.53cm,-15.57cm);
\end{tikzpicture}
\end{document}
